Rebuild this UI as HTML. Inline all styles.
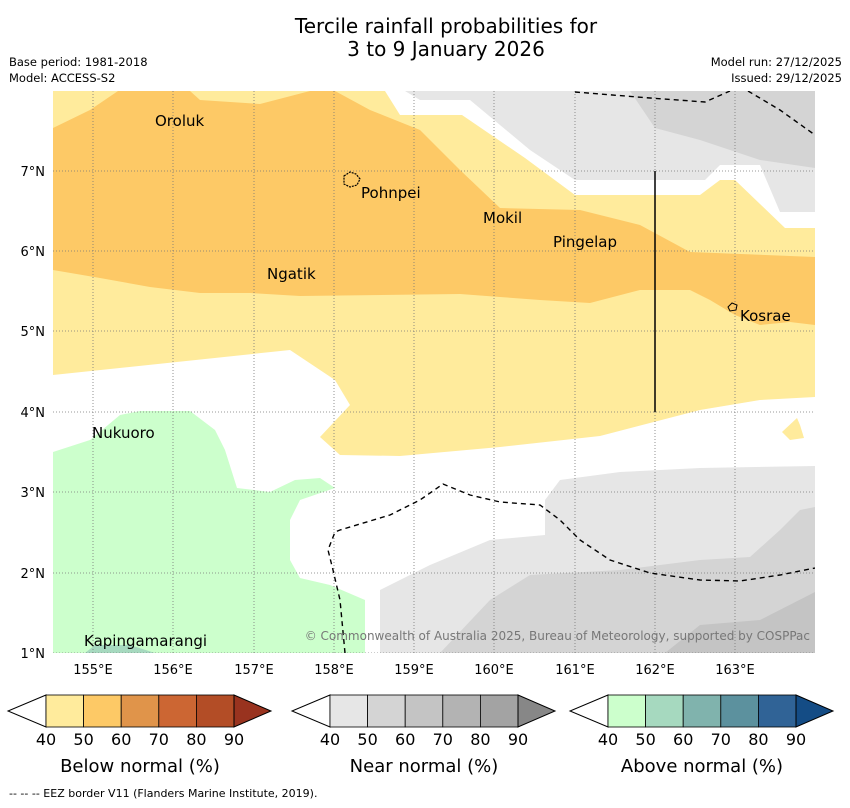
<!DOCTYPE html>
<html><head><meta charset="utf-8"><style>
body{margin:0;background:#fff;width:850px;height:804px;overflow:hidden;font-family:"DejaVu Sans","Liberation Sans",sans-serif}
</style></head><body>
<svg width="850" height="804" xmlns="http://www.w3.org/2000/svg" font-family="DejaVu Sans, Liberation Sans, sans-serif">
<text x="446" y="33" font-size="20" text-anchor="middle">Tercile rainfall probabilities for</text>
<text x="446" y="56" font-size="20" text-anchor="middle">3 to 9 January 2026</text>
<text x="9" y="66" font-size="11.5">Base period: 1981-2018</text>
<text x="9" y="82" font-size="11.5">Model: ACCESS-S2</text>
<text x="842" y="66" font-size="11.5" text-anchor="end">Model run: 27/12/2025</text>
<text x="842" y="82" font-size="11.5" text-anchor="end">Issued: 29/12/2025</text>
<defs><clipPath id="mc"><rect x="53" y="91" width="762" height="562"/></clipPath></defs>
<g clip-path="url(#mc)">
<rect x="53" y="91" width="762" height="562" fill="#fff"/>
<polygon fill="#e6e6e6" points="405,91 815,91 815,212 780,212 760,165 720,165 705,180 575,180 530,150 470,100 420,100"/>
<polygon fill="#d4d4d4" points="630,91 815,91 815,168 760,160 730,150 700,140 655,128"/>
<polygon fill="#ffeb9c" points="53,91 385,91 400,115 462,115 525,158 575,195 700,195 720,180 735,180 785,228 815,228 815,397 760,400 700,410 600,436 500,447 400,456 340,455 320,437 350,405 335,380 290,350 53,375"/>
<polygon fill="#fdc966" points="53,128 90,110 118,91 190,91 200,100 260,104 310,91 335,91 370,110 420,130 460,170 500,208 580,210 640,225 690,252 815,257 815,325 790,322 760,325 735,315 710,300 690,290 640,290 590,303 540,300 500,297 460,294 300,296 250,293 200,293 150,287 100,278 53,270"/>
<polygon fill="#ffeb9c" points="782,432 797,418 800,425 804,438 790,440"/>
<polygon fill="#ccffcc" points="53,452 90,440 120,415 140,411 190,411 215,430 225,450 237,488 270,492 295,480 320,478 335,488 300,500 290,520 290,560 300,578 330,585 365,600 365,653 53,653"/>
<polygon fill="#a6d9bf" points="85,653 95,645 130,645 155,653"/>
<polygon fill="#e6e6e6" points="380,653 380,590 430,565 490,540 545,535 545,500 560,480 620,472 700,468 815,466 815,653"/>
<polygon fill="#d4d4d4" points="440,653 490,600 530,575 620,570 700,560 750,557 780,530 800,510 815,507 815,653"/>
<polygon fill="#c4c4c4" points="665,653 700,625 760,620 815,592 815,653"/>
<g stroke="#777" stroke-width="0.8" stroke-dasharray="1,2">
<line x1="93" y1="91" x2="93" y2="653"/><line x1="173" y1="91" x2="173" y2="653"/><line x1="254" y1="91" x2="254" y2="653"/><line x1="334" y1="91" x2="334" y2="653"/><line x1="414" y1="91" x2="414" y2="653"/><line x1="494" y1="91" x2="494" y2="653"/><line x1="575" y1="91" x2="575" y2="653"/><line x1="655" y1="91" x2="655" y2="653"/><line x1="735" y1="91" x2="735" y2="653"/>
<line x1="53" y1="171" x2="815" y2="171"/><line x1="53" y1="251" x2="815" y2="251"/><line x1="53" y1="331" x2="815" y2="331"/><line x1="53" y1="412" x2="815" y2="412"/><line x1="53" y1="492" x2="815" y2="492"/><line x1="53" y1="573" x2="815" y2="573"/><line x1="53" y1="653" x2="815" y2="653"/>
</g>
<g fill="none" stroke="#000" stroke-width="1.4" stroke-dasharray="5,4">
<polyline points="575,92 650,98 705,102 730,91"/>
<polyline points="748,91 780,110 815,135"/>
<polyline points="345,653 340,600 333,570 328,550 335,532 340,530 390,515 420,500 443,484 470,495 500,502 540,505 560,520 580,540 610,560 650,573 700,580 740,581 780,575 815,568"/>
</g>
<line x1="655" y1="171" x2="655" y2="412" stroke="#000" stroke-width="1.5"/>
<path d="M344,176 l6,-4 l6,2 l4,5 l-3,6 l-7,2 l-6,-3 z" fill="none" stroke="#000" stroke-width="1.2" stroke-dasharray="2,1"/>
<path d="M728,307 l4,-4 l5,2 l-1,5 l-6,1 z" fill="none" stroke="#000" stroke-width="1"/>
<g font-size="15" fill="#000">
<text x="155" y="126">Oroluk</text><text x="361" y="198">Pohnpei</text><text x="483" y="223">Mokil</text>
<text x="553" y="247">Pingelap</text><text x="267" y="279">Ngatik</text><text x="740" y="321">Kosrae</text>
<text x="92" y="438">Nukuoro</text><text x="84" y="646">Kapingamarangi</text>
</g>
<text x="810" y="640" font-size="12" fill="#777" text-anchor="end">© Commonwealth of Australia 2025, Bureau of Meteorology, supported by COSPPac</text>
</g>
<g font-size="13" text-anchor="middle">
<text x="93" y="674">155°E</text><text x="173" y="674">156°E</text><text x="254" y="674">157°E</text><text x="334" y="674">158°E</text><text x="414" y="674">159°E</text><text x="494" y="674">160°E</text><text x="575" y="674">161°E</text><text x="655" y="674">162°E</text><text x="735" y="674">163°E</text>
</g>
<g font-size="13" text-anchor="end">
<text x="45" y="176">7°N</text><text x="45" y="256">6°N</text><text x="45" y="336">5°N</text><text x="45" y="417">4°N</text><text x="45" y="497">3°N</text><text x="45" y="578">2°N</text><text x="45" y="658">1°N</text>
</g>
<g id="bars"></g>
<text x="9" y="797" font-size="11">--  --  -- EEZ border V11 (Flanders Marine Institute, 2019).</text>
</svg>
<script>
const cbStarts=[46,330,608];
const cbTitles=["Below normal (%)","Near normal (%)","Above normal (%)"];
const cbColors=[["#ffeb9c","#fdc966","#e0944a","#cc6633","#b34d26","#99331f"],["#e6e6e6","#d4d4d4","#c4c4c4","#b3b3b3","#a3a3a3","#878787"],["#ccffcc","#a6d9bf","#80b3ad","#5c919e","#306396","#144c85"]];
const cbTicks=["40","50","60","70","80","90"];
const ns="http://www.w3.org/2000/svg";
const g=document.getElementById('bars');
cbStarts.forEach((x0,i)=>{
 const w=37.6,y=695,h=32;
 const cb=document.createElementNS(ns,'g');
 
 
 let p=document.createElementNS(ns,'polygon');
 p.setAttribute('points',`${x0},${y} ${x0-38},${y+h/2} ${x0},${y+h}`);p.setAttribute('fill','#fff');p.setAttribute('stroke','#000');
 
 
 cb.appendChild(p);
 for(let k=0;k<5;k++){const r=document.createElementNS(ns,'rect');r.setAttribute('x',x0+k*w);r.setAttribute('y',y);r.setAttribute('width',w);r.setAttribute('height',h);r.setAttribute('fill',cbColors[i][k]);r.setAttribute('stroke','#000');r.setAttribute('stroke-width','0.8');
 
 
 cb.appendChild(r);}
 const xe=x0+5*w;
 p=document.createElementNS(ns,'polygon');
 p.setAttribute('points',`${xe},${y} ${xe+37},${y+h/2} ${xe},${y+h}`);p.setAttribute('fill',cbColors[i][5]);p.setAttribute('stroke','#000');
 
 
 cb.appendChild(p);
 cbTicks.forEach((t,k)=>{const tx=document.createElementNS(ns,'text');tx.setAttribute('x',x0+k*w);tx.setAttribute('y',745);tx.setAttribute('font-size','16');tx.setAttribute('text-anchor','middle');tx.textContent=t;
 
 
 cb.appendChild(tx);});
 const tt=document.createElementNS(ns,'text');tt.setAttribute('x',x0+2.5*w);tt.setAttribute('y',772);tt.setAttribute('font-size','18');tt.setAttribute('text-anchor','middle');tt.textContent=cbTitles[i];
 
 
 cb.appendChild(tt);
 g.appendChild(cb);
});
</script>
</body></html>
